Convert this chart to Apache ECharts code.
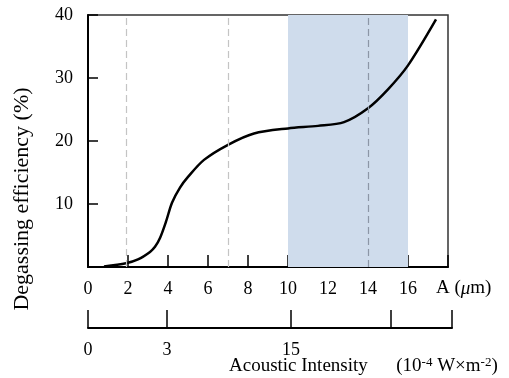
<!DOCTYPE html>
<html lang="en">
<head>
    <meta charset="UTF-8">
    <title>Degassing efficiency</title>
    <style>
        * { margin: 0; padding: 0; }
        #main { width: 509px; height: 378px; background: #fff; }
    </style>
</head>
<body>
    <div id="main"></div>
    <script src="https://cdn.jsdelivr.net/npm/echarts@6/dist/echarts.min.js"></script>
    <script>
        // curve: amplitude A (um) vs degassing efficiency (%)
        var amplitude = [0.8, 1.9, 2.5, 3.1, 3.35, 3.6, 3.9, 4.2, 4.6, 5.0, 5.8, 7.0, 8.3, 10.0, 11.5, 12.8, 14.0, 15.0, 16.0, 17.4];
        var efficiency = [0.1, 0.6, 1.2, 2.4, 3.2, 4.6, 7.2, 10.2, 12.6, 14.3, 17.0, 19.4, 21.2, 22.0, 22.4, 23.0, 25.2, 28.2, 32.0, 39.3];

        var dashedAt = [1.9, 7.0, 14.0];
        var dashedColors = ['#c4c4c4', '#c4c4c4', '#8c96a6'];
        var bandRange = [10, 16];

        // second scale (acoustic intensity), placed at the matching amplitude
        var intensityLabels = ['0', '3', '15'];
        var intensityPos = [0, 3.95, 10.15];
        var intensityTickPos = [0, 3.95, 10.15, 15.15, 18.2];

        var font = 'Liberation Serif';

        var pts = [];
        for (var i = 0; i < amplitude.length; i++) {
            pts.push([amplitude[i], efficiency[i]]);
        }

        var lines = [];
        for (var j = 0; j < dashedAt.length; j++) {
            lines.push({ xAxis: dashedAt[j], lineStyle: { color: dashedColors[j] } });
        }

        var chart = echarts.init(document.getElementById('main'));
        chart.setOption({
            animation: false,
            textStyle: { fontFamily: font, color: '#000' },
            grid: [
                { left: 88, top: 15, width: 360, height: 252, show: true, borderColor: '#333', borderWidth: 1.5 },
                { left: 88, top: 300, width: 364, height: 28 }
            ],
            xAxis: [{
                type: 'value', gridIndex: 0, min: 0, max: 18, interval: 2,
                axisLine: { lineStyle: { color: '#000', width: 2 } },
                axisTick: { inside: true, length: 12, lineStyle: { color: '#000', width: 1.5 } },
                axisLabel: {
                    margin: 13, fontSize: 18, fontFamily: font, color: '#000',
                    formatter: function (v) { return v === 18 ? '' : v; }
                },
                splitLine: { show: false }
            }, {
                type: 'value', gridIndex: 1, min: 0, max: 18.2,
                axisLine: { lineStyle: { color: '#000', width: 2 } },
                axisTick: { inside: true, length: 18, customValues: intensityTickPos, lineStyle: { color: '#000', width: 1.5 } },
                axisLabel: {
                    margin: 13, fontSize: 18, fontFamily: font, color: '#000',
                    customValues: intensityPos,
                    formatter: function (v) {
                        var k = intensityPos.indexOf(v);
                        return k >= 0 ? intensityLabels[k] : '';
                    }
                },
                splitLine: { show: false }
            }],
            yAxis: [{
                type: 'value', gridIndex: 0, min: 0, max: 40, interval: 10,
                axisLine: { show: true, lineStyle: { color: '#000', width: 2 } },
                axisTick: { inside: true, length: 10, lineStyle: { color: '#000', width: 1.5 } },
                axisLabel: {
                    margin: 15, fontSize: 18, fontFamily: font, color: '#000',
                    formatter: function (v) { return v === 0 ? '' : v; }
                },
                splitLine: { show: false }
            }, {
                type: 'value', gridIndex: 1, show: false, min: 0, max: 1
            }],
            graphic: [{
                type: 'text', left: 436, top: 279,
                style: {
                    text: 'A ({i|μ}m)', font: '19px ' + font, fill: '#000',
                    rich: { i: { fontStyle: 'italic', fontSize: 19, fontFamily: font } }
                }
            }, {
                type: 'text', left: 229, top: 356,
                style: {
                    text: 'Acoustic Intensity      (10{s|-4} W×m{s|-2})', font: '19px ' + font, fill: '#000',
                    rich: { s: { fontSize: 13, fontFamily: font, verticalAlign: 'top', padding: [0, 0, 7, 0] } }
                }
            }, {
                type: 'text', x: 22, y: 199, rotation: Math.PI / 2,
                style: {
                    text: 'Degassing efficiency (%)', font: '22px ' + font, fill: '#000',
                    align: 'center', verticalAlign: 'middle'
                }
            }],
            series: [{
                type: 'line', xAxisIndex: 0, yAxisIndex: 0,
                data: pts, smooth: 0.3, showSymbol: false,
                lineStyle: { color: '#000', width: 2.5 },
                markArea: {
                    silent: true,
                    itemStyle: { color: '#cfdcec' },
                    data: [[{ xAxis: bandRange[0] }, { xAxis: bandRange[1] }]]
                },
                markLine: {
                    silent: true, symbol: 'none', label: { show: false },
                    lineStyle: { type: [7, 4], width: 1.2 },
                    data: lines
                }
            }, {
                type: 'line', xAxisIndex: 1, yAxisIndex: 1, data: []
            }]
        });
    </script>
</body>
</html>
